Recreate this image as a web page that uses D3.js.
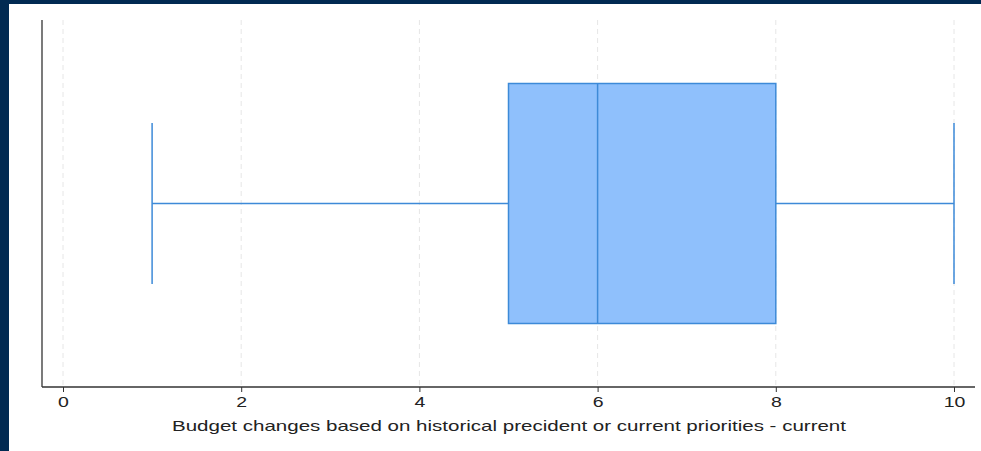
<!DOCTYPE html>
<html><head><meta charset="utf-8">
<script src="https://cdn.jsdelivr.net/npm/d3@7"></script>
<style>
html,body{margin:0;padding:0;background:#012a52;}
svg{display:block;}
</style></head>
<body>
<svg id="c" width="981" height="451"></svg>
<script>
const statNames = ["min","q1","median","q3","max"];
const statValues = [1, 5, 6, 8, 10];
const tickValues = [0, 2, 4, 6, 8, 10];
const axisTitle = "Budget changes based on historical precident or current priorities - current";

const stats = Object.fromEntries(statNames.map((n,i)=>[n,statValues[i]]));
const svg = d3.select("#c");
svg.append("rect").attr("x",0).attr("y",0).attr("width",981).attr("height",451).attr("fill","#012a52");
svg.append("rect").attr("x",9).attr("y",4).attr("width",972).attr("height",447).attr("fill","#ffffff");

const x = d3.scaleLinear().domain([0,10]).range([63,954]);
const y = d3.scaleLinear().domain([0,1]).range([387,20]);
const plotTop = 20, plotBottom = 387, axisLeft = 42, axisRight = 975;

// grid
svg.append("g").selectAll("line").data(tickValues).join("line")
  .attr("x1",d=>x(d)).attr("x2",d=>x(d)).attr("y1",plotTop).attr("y2",plotBottom)
  .attr("stroke","#e6e6e6").attr("stroke-width",1).attr("stroke-dasharray","5,4");

const blue = "#3d8ad8", fill = "#8fc0fc";
const cy = y(0.5), boxH = 240, capH = 161;
// whiskers
svg.append("line").attr("x1",x(stats.min)).attr("x2",x(stats.q1)).attr("y1",cy).attr("y2",cy).attr("stroke",blue).attr("stroke-width",1.3);
svg.append("line").attr("x1",x(stats.q3)).attr("x2",x(stats.max)).attr("y1",cy).attr("y2",cy).attr("stroke",blue).attr("stroke-width",1.3);
[stats.min, stats.max].forEach(v=>{
  svg.append("line").attr("x1",x(v)).attr("x2",x(v)).attr("y1",cy-capH/2).attr("y2",cy+capH/2).attr("stroke",blue).attr("stroke-width",1.5);
});
// box
svg.append("rect").attr("x",x(stats.q1)).attr("y",cy-boxH/2).attr("width",x(stats.q3)-x(stats.q1)).attr("height",boxH)
  .attr("fill",fill).attr("stroke",blue).attr("stroke-width",1.5);
svg.append("line").attr("x1",x(stats.median)).attr("x2",x(stats.median)).attr("y1",cy-boxH/2).attr("y2",cy+boxH/2).attr("stroke",blue).attr("stroke-width",1.5);

// axes
svg.append("line").attr("x1",axisLeft).attr("x2",axisLeft).attr("y1",plotTop).attr("y2",plotBottom).attr("stroke","#333").attr("stroke-width",1.3);
const xa = svg.append("g").attr("transform",`translate(0,${plotBottom})`)
  .call(d3.axisBottom(x).tickValues(tickValues).tickSize(5).tickPadding(4).tickFormat(d3.format("d")));
xa.select(".domain").remove();
xa.append("line").attr("x1",axisLeft).attr("x2",axisRight).attr("stroke","#333").attr("stroke-width",1.3);
xa.selectAll(".tick line").attr("stroke","#333");
xa.selectAll(".tick text").attr("fill","#222").attr("transform","scale(1.3,1)")
  .style("font-family","'Liberation Sans', Arial, sans-serif").style("font-size","15px");

svg.append("text").attr("x",509).attr("y",431).attr("text-anchor","middle")
  .attr("textLength",674).attr("lengthAdjust","spacingAndGlyphs")
  .attr("fill","#222").style("font-family","'Liberation Sans', Arial, sans-serif").style("font-size","14.5px").text(axisTitle);
</script>
</body></html>
